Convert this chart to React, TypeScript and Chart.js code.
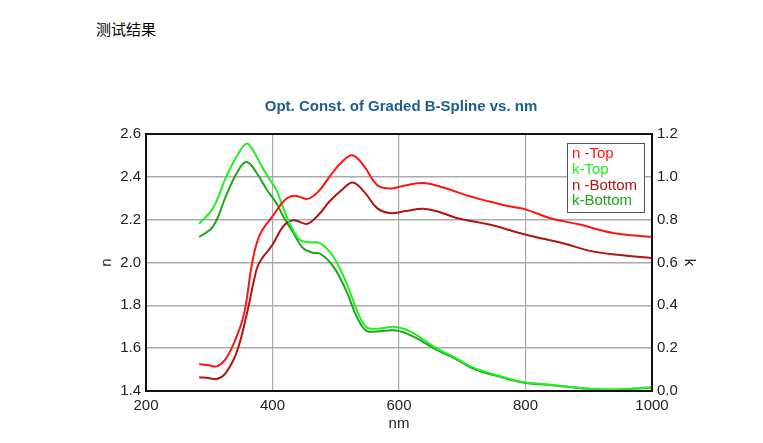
import React, { useEffect, useRef } from "react";
import { Chart, registerables } from "chart.js";

Chart.register(...registerables);

const chartTitle = "Opt. Const. of Graded B-Spline vs. nm";
const pageHeading = "测试结果";
const seriesNames = ["n -Top", "k-Top", "n -Bottom", "k-Bottom"];

const nTopNm = [284, 300, 312, 325, 340, 355, 368, 380, 400, 420, 435, 456, 475, 490, 510, 527, 545, 565, 585, 610, 640, 670, 712, 743, 770, 801, 838, 886, 938, 1000];
const nTopVal = [1.526, 1.52, 1.515, 1.545, 1.63, 1.76, 2.0, 2.13, 2.215, 2.293, 2.312, 2.297, 2.34, 2.4, 2.47, 2.5, 2.449, 2.363, 2.345, 2.36, 2.371, 2.35, 2.309, 2.285, 2.265, 2.247, 2.208, 2.177, 2.138, 2.119];

const nBotNm = [284, 300, 312, 325, 343, 359, 375, 382, 400, 417, 433, 455, 475, 490, 510, 527, 545, 565, 585, 610, 638, 665, 691, 743, 801, 859, 906, 950, 1000];
const nBotVal = [1.464, 1.46, 1.456, 1.48, 1.578, 1.755, 1.97, 2.013, 2.083, 2.169, 2.197, 2.181, 2.23, 2.285, 2.34, 2.374, 2.33, 2.255, 2.231, 2.24, 2.251, 2.235, 2.208, 2.177, 2.13, 2.09, 2.052, 2.035, 2.021];

const kTopNm = [284, 306, 327, 345, 359, 370, 383, 396, 406, 417, 427, 443, 459, 475, 496, 517, 533, 548, 564, 596, 622, 659, 690, 717, 759, 796, 849, 891, 928, 970, 1000];
const kTopVal = [0.78, 0.854, 1.002, 1.103, 1.155, 1.12, 1.049, 0.986, 0.94, 0.855, 0.784, 0.706, 0.694, 0.691, 0.628, 0.504, 0.38, 0.299, 0.291, 0.299, 0.271, 0.2, 0.154, 0.11, 0.07, 0.042, 0.026, 0.013, 0.007, 0.011, 0.018];

const kBotNm = [284, 306, 327, 345, 359, 375, 391, 406, 417, 433, 448, 464, 475, 496, 517, 533, 548, 564, 596, 622, 659, 690, 717, 759, 796, 849, 891, 928, 970, 1000];
const kBotVal = [0.719, 0.768, 0.915, 1.025, 1.069, 1.018, 0.94, 0.878, 0.815, 0.738, 0.668, 0.645, 0.642, 0.582, 0.465, 0.348, 0.282, 0.278, 0.282, 0.255, 0.193, 0.149, 0.105, 0.067, 0.04, 0.025, 0.012, 0.006, 0.01, 0.016];

const colors = ["#ff1414", "#22ee22", "#b01414", "#18a818"];

const toPts = (xs: number[], ys: number[]) => xs.map((x, i) => ({ x, y: ys[i] }));

export default function App() {
  const ref = useRef<HTMLCanvasElement | null>(null);

  useEffect(() => {
    if (!ref.current) return;
    const font = "'Liberation Sans', Arial, sans-serif";

    const framePlugin = {
      id: "frame",
      afterDatasetsDraw(chart: any) {
        const { ctx, chartArea: a } = chart;
        ctx.save();
        ctx.strokeStyle = "#111";
        ctx.lineWidth = 2;
        ctx.strokeRect(a.left, a.top, a.right - a.left, a.bottom - a.top);
        ctx.restore();
      },
      afterDraw(chart: any) {
        const { ctx, chartArea: a } = chart;
        ctx.save();
        ctx.font = `bold 15px ${font}`;
        ctx.fillStyle = "#1b5e8c";
        ctx.textAlign = "center";
        ctx.textBaseline = "middle";
        ctx.fillText(chartTitle, (a.left + a.right) / 2 + 2, 107);
        const bx = 567, by = 143, bw = 77, bh = 69;
        ctx.fillStyle = "#fff";
        ctx.fillRect(bx, by, bw, bh);
        ctx.strokeStyle = "#555";
        ctx.lineWidth = 1;
        ctx.strokeRect(bx + 0.5, by + 0.5, bw, bh);
        ctx.font = `15px ${font}`;
        ctx.textAlign = "left";
        seriesNames.forEach((nm, i) => {
          ctx.fillStyle = colors[i];
          ctx.fillText(nm, bx + 5, by + 11 + i * 15.7);
        });
        ctx.restore();
      },
    };

    const mk = (label: string, xs: number[], ys: number[], color: string, axis: string) => ({
      label,
      data: toPts(xs, ys),
      borderColor: color,
      backgroundColor: color,
      borderWidth: 2,
      pointRadius: 0,
      fill: false,
      tension: 0.4,
      yAxisID: axis,
    });

    const tickFont = { family: font, size: 15 };
    const chart = new Chart(ref.current, {
      type: "line",
      data: {
        datasets: [
          mk(seriesNames[0], nTopNm, nTopVal, colors[0], "y"),
          mk(seriesNames[1], kTopNm, kTopVal, colors[1], "y1"),
          mk(seriesNames[2], nBotNm, nBotVal, colors[2], "y"),
          mk(seriesNames[3], kBotNm, kBotVal, colors[3], "y1"),
        ],
      },
      options: {
        animation: false,
        responsive: false,
        devicePixelRatio: 1,
        layout: { padding: { left: 96, right: 61, top: 134, bottom: 7 } },
        plugins: { legend: { display: false }, title: { display: false }, tooltip: { enabled: false } },
        scales: {
          x: {
            type: "linear",
            min: 200,
            max: 1000,
            ticks: { stepSize: 200, font: tickFont, color: "#222", padding: 6, callback: (v: any) => String(v) },
            grid: { color: "#aaaaaa", lineWidth: 1.2, drawTicks: false },
            border: { color: "#111", width: 2 },
            title: { display: true, text: "nm", font: tickFont, color: "#222", padding: { top: 0, bottom: 3 } },
            afterFit: (s: any) => { s.height = 45; },
          },
          y: {
            type: "linear",
            position: "left",
            min: 1.4,
            max: 2.6,
            ticks: { stepSize: 0.2, font: tickFont, color: "#222", padding: 5, callback: (v: any) => Number(v).toFixed(1) },
            grid: { color: "#aaaaaa", lineWidth: 1.5, drawTicks: false },
            border: { color: "#111", width: 2 },
            title: { display: true, text: "n", font: tickFont, color: "#222", padding: { top: 2, bottom: 0 } },
            afterFit: (s: any) => { s.width = 50; },
          },
          y1: {
            type: "linear",
            position: "right",
            min: 0,
            max: 1.2,
            ticks: { stepSize: 0.2, font: tickFont, color: "#222", padding: 5, callback: (v: any) => Number(v).toFixed(1) },
            grid: { display: false, drawTicks: false },
            border: { color: "#111", width: 2 },
            title: { display: true, text: "k", font: tickFont, color: "#222", padding: { top: 4, bottom: 0 } },
            afterFit: (s: any) => { s.width = 50; },
          },
        },
      } as any,
      plugins: [framePlugin],
    });
    return () => chart.destroy();
  }, []);

  return (
    <div style={{ position: "absolute", left: 0, top: 0, width: 763, height: 443, background: "#fff" }}>
      <div
        style={{
          position: "absolute",
          left: 96,
          top: 19,
          fontFamily: "'Noto Sans CJK SC', serif",
          fontSize: 15,
          lineHeight: "20px",
          color: "#000",
          whiteSpace: "nowrap",
        }}
      >
        {pageHeading}
      </div>
      <canvas ref={ref} width={763} height={443} style={{ position: "absolute", left: 0, top: 0, width: 763, height: 443 }} />
    </div>
  );
}
